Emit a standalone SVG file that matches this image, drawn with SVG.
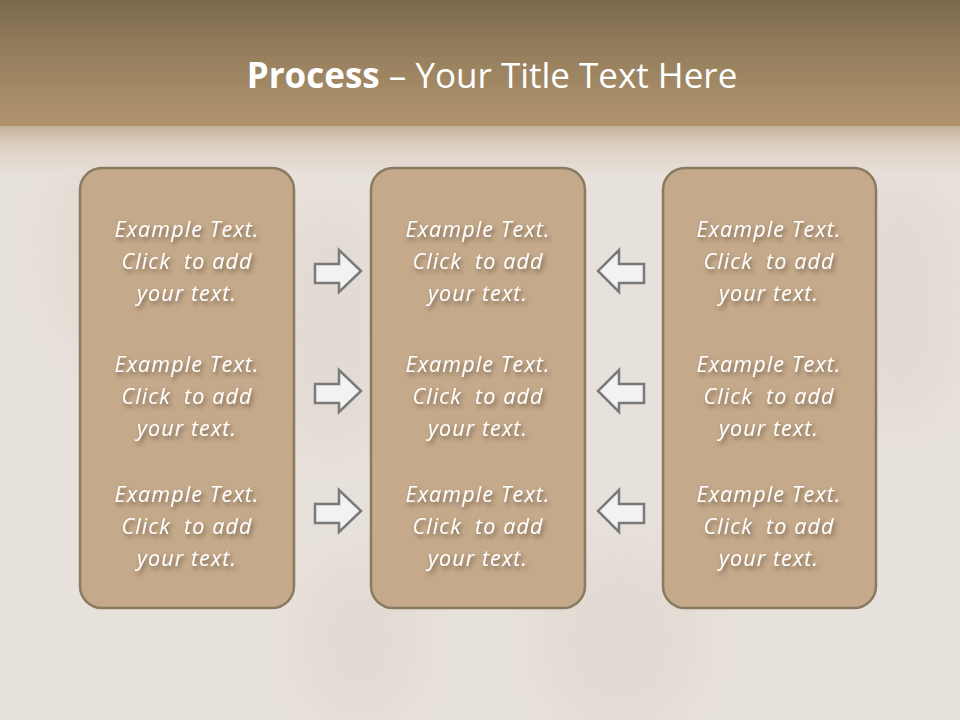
<svg xmlns="http://www.w3.org/2000/svg" width="960" height="720" viewBox="0 0 960 720">
<defs>
<linearGradient id="band" x1="0" y1="0" x2="0" y2="1">
<stop offset="0" stop-color="#7b6a4e"/>
<stop offset="0.5" stop-color="#9a8260"/>
<stop offset="1" stop-color="#b0936d"/>
</linearGradient>
<linearGradient id="fade" x1="0" y1="0" x2="0" y2="1">
<stop offset="0" stop-color="#c4b099"/>
<stop offset="0.4" stop-color="#dcd0c2"/>
<stop offset="1" stop-color="#e8e1da"/>
</linearGradient>
<filter id="sh" x="-10%" y="-20%" width="130%" height="160%">
<feDropShadow dx="2" dy="3" stdDeviation="2" flood-color="#5a4630" flood-opacity="0.7"/>
</filter>
<filter id="blur"><feGaussianBlur stdDeviation="20"/></filter>
</defs>
<style>
.box{fill:#c4a98a;stroke:#8b7a62;stroke-width:2.5}
.t{font-family:"Open Sans","Liberation Sans",sans-serif;font-style:italic;font-size:21.5px;letter-spacing:1.1px;fill:#ffffff;text-anchor:middle;white-space:pre}
.arr{fill:#f2f2f2;stroke:#7a7a7a;stroke-width:2.5;stroke-linejoin:miter}
.title{font-family:"Open Sans","Liberation Sans",sans-serif;font-size:35px;fill:#ffffff;text-anchor:middle}
</style>
<rect x="0" y="0" width="960" height="720" fill="#e7e1db"/>
<g filter="url(#blur)" fill="#ddd3c9" opacity="0.45">
<ellipse cx="120" cy="250" rx="70" ry="110"/>
<ellipse cx="330" cy="330" rx="60" ry="120"/>
<ellipse cx="620" cy="640" rx="80" ry="90"/>
<ellipse cx="900" cy="300" rx="60" ry="120"/>
<ellipse cx="360" cy="640" rx="60" ry="80"/>
</g>
<rect x="0" y="125" width="960" height="50" fill="url(#fade)"/>
<rect x="0" y="0" width="960" height="126" fill="url(#band)"/>
<text class="title" x="492" y="88"><tspan font-weight="bold">Process</tspan> – Your Title Text Here</text>
<g id="connectors">
<path class="arr" d="M315,264 H339 V250 L361,271 L339,292 V283 H315 Z"/>
<path class="arr" d="M315,384 H339 V370 L361,391 L339,412 V403 H315 Z"/>
<path class="arr" d="M315,504 H339 V490 L361,511 L339,532 V523 H315 Z"/>
<path class="arr" d="M644,264 H619 V250 L598,271 L619,292 V283 H644 Z"/>
<path class="arr" d="M644,384 H619 V370 L598,391 L619,412 V403 H644 Z"/>
<path class="arr" d="M644,504 H619 V490 L598,511 L619,532 V523 H644 Z"/>
</g>
<g id="node-left">
<rect class="box" x="80" y="168" width="214" height="440" rx="22"/>
<g filter="url(#sh)">
<text class="t" x="187" y="237">Example Text.</text>
<text class="t" x="187" y="269">Click  to add</text>
<text class="t" x="187" y="301">your text.</text>
<text class="t" x="187" y="372">Example Text.</text>
<text class="t" x="187" y="404">Click  to add</text>
<text class="t" x="187" y="436">your text.</text>
<text class="t" x="187" y="502">Example Text.</text>
<text class="t" x="187" y="534">Click  to add</text>
<text class="t" x="187" y="566">your text.</text>
</g>
</g>
<g id="node-center">
<rect class="box" x="371" y="168" width="214" height="440" rx="22"/>
<g filter="url(#sh)">
<text class="t" x="478" y="237">Example Text.</text>
<text class="t" x="478" y="269">Click  to add</text>
<text class="t" x="478" y="301">your text.</text>
<text class="t" x="478" y="372">Example Text.</text>
<text class="t" x="478" y="404">Click  to add</text>
<text class="t" x="478" y="436">your text.</text>
<text class="t" x="478" y="502">Example Text.</text>
<text class="t" x="478" y="534">Click  to add</text>
<text class="t" x="478" y="566">your text.</text>
</g>
</g>
<g id="node-right">
<rect class="box" x="663" y="168" width="213" height="440" rx="22"/>
<g filter="url(#sh)">
<text class="t" x="769" y="237">Example Text.</text>
<text class="t" x="769" y="269">Click  to add</text>
<text class="t" x="769" y="301">your text.</text>
<text class="t" x="769" y="372">Example Text.</text>
<text class="t" x="769" y="404">Click  to add</text>
<text class="t" x="769" y="436">your text.</text>
<text class="t" x="769" y="502">Example Text.</text>
<text class="t" x="769" y="534">Click  to add</text>
<text class="t" x="769" y="566">your text.</text>
</g>
</g>
</svg>
